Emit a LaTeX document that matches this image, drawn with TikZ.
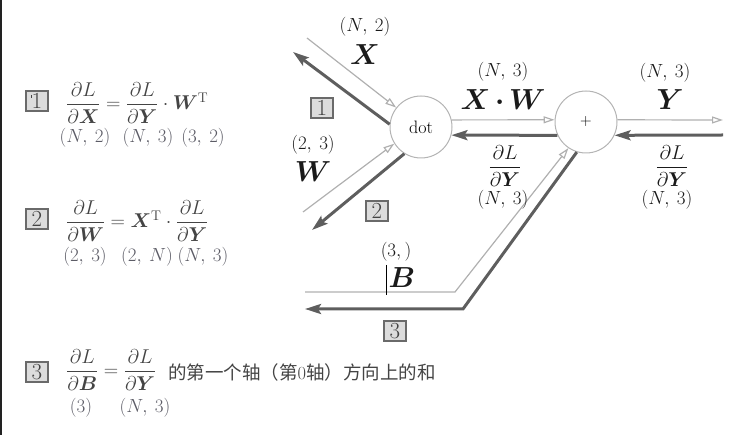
\RequirePackage{fix-cm}
\documentclass[tikz,border=0pt]{standalone}
\usepackage{fontspec}
\usepackage{amsmath}
\usepackage{bm}
\usetikzlibrary{arrows.meta}
\newfontfamily\cjk{Noto Sans CJK SC}
\definecolor{lightline}{HTML}{B0B0B0}
\definecolor{darkline}{HTML}{5E5E5E}
\definecolor{boxfill}{HTML}{DCDCDC}
\definecolor{boxline}{HTML}{6A6A6A}
\definecolor{formula}{HTML}{444444}
\definecolor{dimtext}{HTML}{5C5C66}
\definecolor{labeltext}{HTML}{1A1A1A}
\definecolor{circline}{HTML}{B4B4B4}
\definecolor{edgeline}{HTML}{222222}
\begin{document}
\begin{tikzpicture}[x=1pt,y=-1pt,
 opnode/.style={circle, draw=circline, line width=1pt, fill=white, minimum size=62pt, inner sep=0pt},
 fwd/.style={draw=lightline, line width=1.2pt, -{Triangle[open,length=11pt,width=7pt]}},
 bwd/.style={draw=darkline, line width=3pt, -{Stealth[length=16pt,width=10pt,inset=3pt]}},
 numbox/.style={draw=boxline, line width=1.6pt, fill=boxfill, minimum width=22pt, minimum height=20pt, inner sep=0pt, text=formula, font=\fontsize{23}{23}\selectfont},
 dimlbl/.style={inner sep=0pt, text=labeltext, font=\fontsize{19}{21}\selectfont},
 fraclbl/.style={inner sep=0pt, text=labeltext, font=\fontsize{20}{22}\selectfont},
 biglbl/.style={inner sep=0pt, text=labeltext, font=\fontsize{29}{31}\selectfont},
 eqn/.style={inner sep=0pt, text=formula, font=\fontsize{20}{22}\selectfont, anchor=west},
 eqdim/.style={inner sep=0pt, text=dimtext, font=\fontsize{19}{21}\selectfont},
 cjktext/.style={inner sep=0pt, text=formula, font=\fontsize{18.5}{20}\selectfont, anchor=west},
]
\useasboundingbox (0,0) rectangle (745,435);
\draw[edgeline, line width=2pt] (1,0) -- (1,435);

% computational graph
\node[opnode] (dot) at (421,127) {\fontsize{18}{20}\selectfont dot};
\node[opnode] (plus) at (586,122) {\fontsize{16}{16}\selectfont +};

\coordinate (xin) at (307,38);
\coordinate (xback) at (293,52);
\coordinate (win) at (303,212);
\coordinate (wback) at (312,230);
\coordinate (yout) at (723,120);
\coordinate (yin) at (723,135);
\coordinate (bin) at (305,292);
\coordinate (bbend) at (455,292);
\coordinate (bback) at (305,309);
\coordinate (bbackbend) at (463,309);

\draw[fwd] (xin) -- (dot.142);
\draw[fwd] (win) -- (dot.212);
\draw[fwd] (dot.13) -- (plus.176);
\draw[fwd] (plus.4) -- (yout);
\draw[fwd] (bin) -- (bbend) -- (plus.236);
\draw[bwd] (dot.175) -- (xback);
\draw[bwd] (dot.238) -- (wback);
\draw[bwd] (plus.205) -- (dot.-15);
\draw[bwd] (yin) -- (plus.-25);
\draw[bwd] (plus.253) -- (bbackbend) -- (bback);

\node[dimlbl] (xdim) at (365,27) {$(N,\:2)$};
\node[biglbl] (xlbl) at (365,55) {$\bm{X}$};
\node[numbox] (n1) at (322,108) {1};
\node[dimlbl] (wdim) at (313,145) {$(2,\:3)$};
\node[biglbl] (wlbl) at (313,172) {$\bm{W}$};
\node[numbox] (n2) at (377,211) {2};
\node[dimlbl] (xwdim) at (503,72) {$(N,\:3)$};
\node[biglbl] (xwlbl) at (503,100) {$\bm{X}\,\mathord{\bm{\cdot}}\,\bm{W}$};
\node[dimlbl] (ydim) at (665,73) {$(N,\:3)$};
\node[biglbl] (ylbl) at (670,100) {$\bm{Y}$};
\node[fraclbl] (gmid) at (505,166) {$\dfrac{\partial L}{\partial \bm{Y}}$};
\node[dimlbl] (gmiddim) at (503,200) {$(N,\:3)$};
\node[fraclbl] (gright) at (672,166) {$\dfrac{\partial L}{\partial \bm{Y}}$};
\node[dimlbl] (grightdim) at (667,200) {$(N,\:3)$};
\node[dimlbl] (bdim) at (396,252) {$(3,)$};
\node[biglbl] (blbl) at (402,278) {$\bm{B}$};
\draw[black, line width=0.8pt] (386,265) -- (386,295);
\node[numbox] (n3) at (395,331) {3};

% formulas on the left
\node[numbox] (b1) at (37,101) {1};
\draw[formula, line width=0.7pt] (31.5,95) -- (31.5,98.5);
\node[eqn] (e1) at (66,103) {$\dfrac{\partial L}{\partial\bm{X}} = \dfrac{\partial L}{\partial\bm{Y}}\cdot\bm{W}^{\mathrm{T}}$};
\node[eqdim] (e1a) at (85,138) {$(N,\:2)$};
\node[eqdim] (e1b) at (148,138) {$(N,\:3)$};
\node[eqdim] (e1c) at (203,138) {$(3,\:2)$};

\node[numbox] (b2) at (37,219) {2};
\node[eqn] (e2) at (66,221) {$\dfrac{\partial L}{\partial\bm{W}} = \bm{X}^{\mathrm{T}}\cdot\dfrac{\partial L}{\partial\bm{Y}}$};
\node[eqdim] (e2a) at (85,257) {$(2,\:3)$};
\node[eqdim] (e2b) at (147,257) {$(2,\:N)$};
\node[eqdim] (e2c) at (203,257) {$(N,\:3)$};

\node[numbox] (b3) at (37,372) {3};
\node[eqn] (e3) at (66,370) {$\dfrac{\partial L}{\partial\bm{B}} = \dfrac{\partial L}{\partial\bm{Y}}$};
\node[cjktext] (e3t) at (168,372) {{\cjk 的第一个轴（第}0{\cjk 轴）方向上的和}};
\node[eqdim] (e3a) at (81,408) {$(3)$};
\node[eqdim] (e3b) at (145,408) {$(N,\:3)$};
\end{tikzpicture}
\end{document}
